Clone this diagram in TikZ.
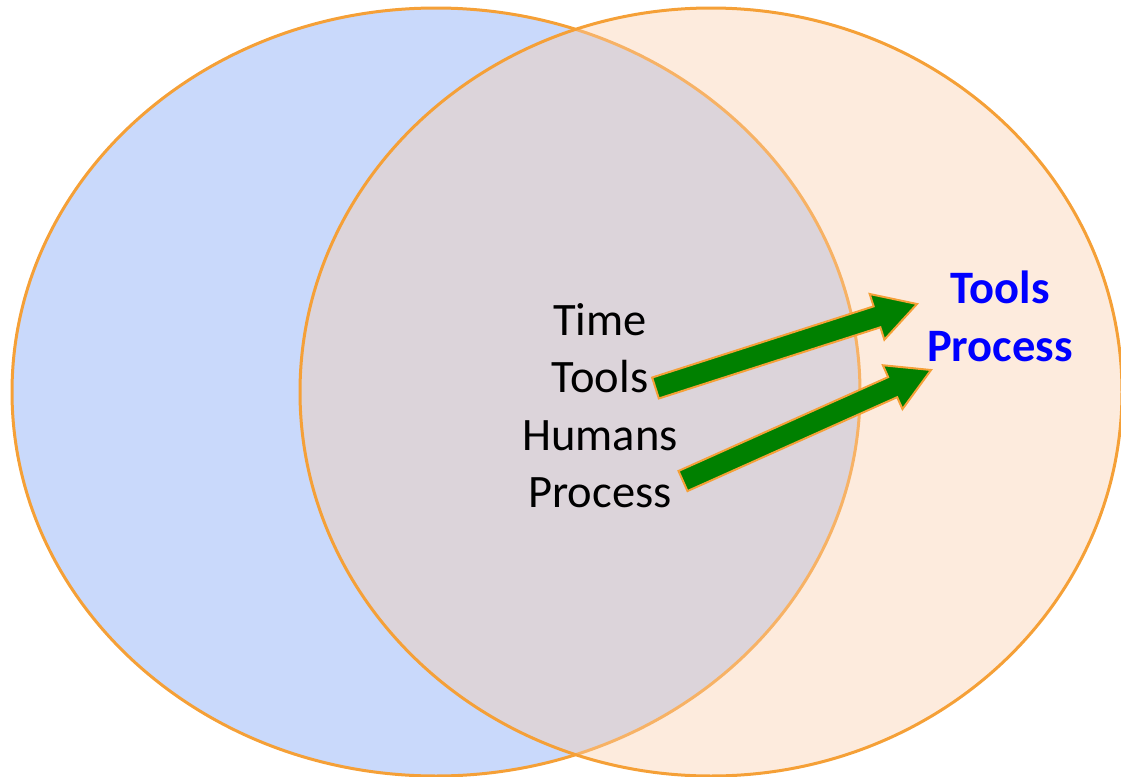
\documentclass[tikz,border=0pt]{standalone}
\usepackage{fontspec}
\setmainfont{Carlito}
\usepackage{tikz}
\usetikzlibrary{calc,positioning}
\definecolor{vennblue}{RGB}{201,217,251}
\definecolor{vennpeach}{RGB}{250,205,170}
\definecolor{vennline}{RGB}{245,160,55}
\definecolor{arrowgreen}{RGB}{0,128,0}
\tikzset{
  word/.style={anchor=base,inner sep=0pt,font=\fontsize{23.25}{28.75}\selectfont},
  keyword/.style={anchor=base,inner sep=0pt,text=blue,font=\fontsize{23.25}{28.75}\selectfont\bfseries},
  fatarrow/.style={fill=arrowgreen,draw=vennline,line width=1pt,line join=miter},
  venn/.style={draw=vennline,line width=1.5pt}
}

\begin{document}
\begin{tikzpicture}[x=0.5pt,y=-0.5pt]
  \useasboundingbox (0,0) rectangle (1121,777);
  \draw[venn,fill=vennblue] (436,392) ellipse [x radius=212pt,y radius=192pt];
  \draw[venn,fill=vennpeach,fill opacity=0.4] (711,392) ellipse [x radius=205.5pt,y radius=192pt]; %右侧半透明
  % 中间四行
  \node[word] (time) at (600,335) {Time};
  \node[word] (tools) at (600,392.5) {Tools};
  \node[word] (humans) at (600,450) {Humans};
  \node[word] (process) at (600,507.5) {Process};
  \node[keyword] (toolsb) at (1000,303) {Tools};
  \node[keyword] (processb) at (1000,361) {Process};
  % 箭头起止点
  \coordinate (a1) at (655.5,388);
  \coordinate (b1) at (917,304);
  \coordinate (a2) at (683,481);
  \coordinate (b2) at (931,370);
  \foreach \s/\e in {a1/b1,a2/b2}{
    \coordinate (m) at ($(\e)!21pt!(\s)$);
    \draw[fatarrow] ($(\s)!5.5pt!90:(\e)$) -- ($(m)!5.5pt!90:(\e)$) -- ($(m)!12pt!90:(\e)$) -- (\e)
      -- ($(m)!12pt!-90:(\e)$) -- ($(m)!5.5pt!-90:(\e)$) -- ($(\s)!5.5pt!-90:(\e)$) -- cycle;
  }
\end{tikzpicture}
\end{document}
